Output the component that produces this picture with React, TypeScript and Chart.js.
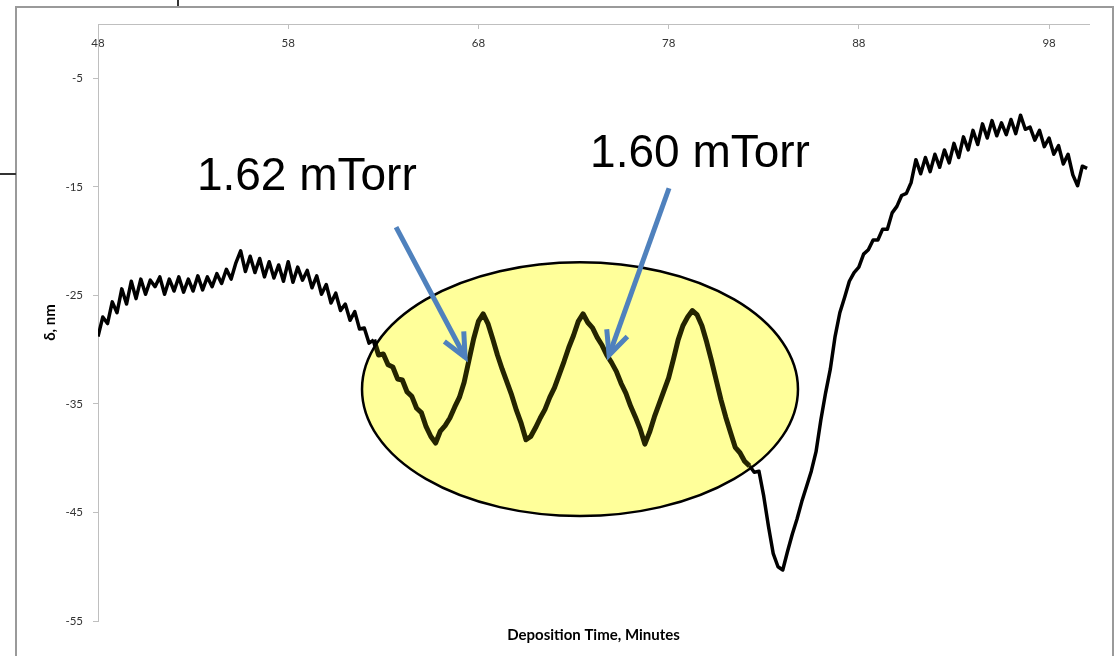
import React, { useEffect, useRef } from "react";
import { Chart, registerables } from "chart.js";

Chart.register(...registerables);

// Deposition time (minutes)
const time = [
  48, 48.25, 48.5, 48.75, 49, 49.25, 49.5, 49.75,
  50, 50.25, 50.5, 50.75, 51, 51.25, 51.5, 51.75,
  52, 52.25, 52.5, 52.75, 53, 53.25, 53.5, 53.75,
  54, 54.25, 54.5, 54.75, 55, 55.25, 55.5, 55.75,
  56, 56.25, 56.5, 56.75, 57, 57.25, 57.5, 57.75,
  58, 58.25, 58.5, 58.75, 59, 59.25, 59.5, 59.75,
  60, 60.25, 60.5, 60.75, 61, 61.25, 61.5, 61.75,
  62, 62.25, 62.5, 62.75, 63, 63.25, 63.5, 63.75,
  64, 64.25, 64.5, 64.75, 65, 65.25, 65.5, 65.75,
  66, 66.25, 66.5, 66.75, 67, 67.25, 67.5, 67.75,
  68, 68.25, 68.5, 68.75, 69, 69.25, 69.5, 69.75,
  70, 70.25, 70.5, 70.75, 71, 71.25, 71.5, 71.75,
  72, 72.25, 72.5, 72.75, 73, 73.25, 73.5, 73.75,
  74, 74.25, 74.5, 74.75, 75, 75.25, 75.5, 75.75,
  76, 76.25, 76.5, 76.75, 77, 77.25, 77.5, 77.75,
  78, 78.25, 78.5, 78.75, 79, 79.25, 79.5, 79.75,
  80, 80.25, 80.5, 80.75, 81, 81.25, 81.5, 81.75,
  82, 82.25, 82.5, 82.75, 83, 83.25, 83.5, 83.75,
  84, 84.25, 84.5, 84.75, 85, 85.25, 85.5, 85.75,
  86, 86.25, 86.5, 86.75, 87, 87.25, 87.5, 87.75,
  88, 88.25, 88.5, 88.75, 89, 89.25, 89.5, 89.75,
  90, 90.25, 90.5, 90.75, 91, 91.25, 91.5, 91.75,
  92, 92.25, 92.5, 92.75, 93, 93.25, 93.5, 93.75,
  94, 94.25, 94.5, 94.75, 95, 95.25, 95.5, 95.75,
  96, 96.25, 96.5, 96.75, 97, 97.25, 97.5, 97.75,
  98, 98.25, 98.5, 98.75, 99, 99.25, 99.5, 99.75,
  100,
];

// delta, nm
const delta = [
  -28.8, -27.0, -27.6, -25.6, -26.6, -24.4, -25.8, -23.7,
  -25.3, -23.5, -24.9, -23.6, -24.2, -23.3, -24.9, -23.5,
  -24.6, -23.3, -24.7, -23.5, -24.6, -23.2, -24.5, -23.3,
  -24.2, -23.0, -23.9, -22.6, -23.5, -22.0, -20.9, -22.8,
  -21.4, -22.9, -21.6, -23.3, -21.9, -23.4, -22.2, -23.7,
  -21.9, -23.8, -22.4, -23.6, -22.7, -24.3, -23.2, -24.9,
  -24.0, -25.7, -24.8, -26.4, -25.8, -27.3, -26.5, -28.1,
  -28.0, -29.4, -29.1, -30.5, -30.4, -31.4, -31.6, -32.7,
  -32.8, -33.9, -34.3, -35.4, -35.8, -37.1, -38.0, -38.6,
  -37.5, -37.0, -36.3, -35.3, -34.4, -33.0, -31.0, -29.0,
  -27.4, -26.7, -27.6, -29.0, -30.5, -31.8, -33.0, -34.2,
  -35.6, -36.8, -38.3, -38.0, -37.2, -36.3, -35.5, -34.4,
  -33.5, -32.3, -31.1, -29.8, -28.7, -27.4, -26.7, -27.5,
  -28.0, -28.9, -29.6, -30.5, -31.2, -32.0, -33.1, -34.0,
  -35.2, -36.2, -37.3, -38.7, -37.6, -36.2, -35.0, -33.8,
  -32.6, -30.9, -29.1, -27.8, -27.0, -26.4, -26.8, -27.8,
  -29.3, -31.0, -32.8, -34.6, -36.2, -37.6, -39.0, -39.5,
  -40.3, -40.7, -41.3, -41.2, -43.5, -46.3, -48.8, -50.0,
  -50.3, -48.6, -47.0, -45.6, -44.0, -42.6, -41.2, -39.4,
  -36.5, -34.0, -31.8, -28.8, -26.6, -25.2, -23.7, -22.9,
  -22.4, -21.2, -20.8, -19.9, -19.9, -18.9, -18.9, -17.4,
  -16.8, -15.8, -15.6, -14.6, -12.5, -13.8, -12.3, -13.6,
  -12.0, -13.2, -11.6, -12.8, -11.0, -12.3, -10.4, -11.6,
  -9.8, -11.1, -9.2, -10.5, -8.9, -10.3, -9.1, -10.2,
  -8.8, -10.1, -8.4, -9.7, -9.5, -10.7, -9.8, -11.3,
  -10.5, -12.0, -11.2, -12.9, -12.0, -13.9, -14.9, -13.1,
  -13.3,
];

const xTicks = [48, 58, 68, 78, 88, 98];
const yTicks = [-55, -45, -35, -25, -15, -5];
const xTitle = "Deposition Time, Minutes";
const yTitle = "δ, nm";

// annotations in data units
const noteTexts = ["1.62 mTorr", "1.60 mTorr"];
const noteAnchors = [
  [53.2, -15.3],
  [73.87, -13.2],
];
const arrowStarts = [
  [63.67, -18.72],
  [78.02, -15.13],
];
const arrowTips = [
  [67.3, -30.7],
  [74.87, -30.5],
];
const ellipseCenter = [73.34, -33.64];
const ellipseRadii = [11.46, 11.69];
const highlightRange = [62.4, 82.4];

const tickFont = { family: "Lato", size: 11.5 };
const titleFont = { family: "Lato", size: 15, weight: "bold" as const };

function ellipseGeom(chart: any) {
  const x = chart.scales.x;
  const y = chart.scales.y;
  const cx = x.getPixelForValue(ellipseCenter[0]);
  const cy = y.getPixelForValue(ellipseCenter[1]);
  const rx = Math.abs(x.getPixelForValue(ellipseCenter[0] + ellipseRadii[0]) - cx);
  const ry = Math.abs(y.getPixelForValue(ellipseCenter[1] + ellipseRadii[1]) - cy);
  return { cx, cy, rx, ry };
}

const annotate = {
  id: "annotate",
  beforeDatasetsDraw(chart: any) {
    const { ctx } = chart;
    const { cx, cy, rx, ry } = ellipseGeom(chart);
    ctx.save();
    ctx.beginPath();
    ctx.ellipse(cx, cy, rx, ry, 0, 0, Math.PI * 2);
    ctx.fillStyle = "#ffffb4";
    ctx.fill();
    ctx.restore();
  },
  afterDatasetsDraw(chart: any) {
    const { ctx, scales } = chart;
    const x = scales.x;
    const y = scales.y;
    const { cx, cy, rx, ry } = ellipseGeom(chart);
    ctx.save();
    ctx.beginPath();
    ctx.ellipse(cx, cy, rx, ry, 0, 0, Math.PI * 2);
    ctx.fillStyle = "rgba(255,255,0,0.14)";
    ctx.fill();
    ctx.lineWidth = 2.5;
    ctx.strokeStyle = "#000";
    ctx.stroke();

    // arrows
    ctx.strokeStyle = "#4f81bd";
    ctx.lineWidth = 5;
    ctx.lineCap = "butt";
    for (let i = 0; i < arrowStarts.length; i++) {
      const x1 = x.getPixelForValue(arrowStarts[i][0]);
      const y1 = y.getPixelForValue(arrowStarts[i][1]);
      const x2 = x.getPixelForValue(arrowTips[i][0]);
      const y2 = y.getPixelForValue(arrowTips[i][1]);
      ctx.beginPath();
      ctx.moveTo(x1, y1);
      ctx.lineTo(x2, y2);
      ctx.stroke();
      const back = Math.atan2(y1 - y2, x1 - x2);
      const len = 26;
      const spread = (25 * Math.PI) / 180;
      ctx.beginPath();
      ctx.moveTo(x2 + len * Math.cos(back - spread), y2 + len * Math.sin(back - spread));
      ctx.lineTo(x2, y2);
      ctx.lineTo(x2 + len * Math.cos(back + spread), y2 + len * Math.sin(back + spread));
      ctx.stroke();
    }

    // texts
    ctx.fillStyle = "#000";
    ctx.font = '46px "Liberation Sans", Arial, sans-serif';
    ctx.textAlign = "left";
    ctx.textBaseline = "alphabetic";
    for (let i = 0; i < noteTexts.length; i++) {
      ctx.fillText(
        noteTexts[i],
        x.getPixelForValue(noteAnchors[i][0]),
        y.getPixelForValue(noteAnchors[i][1])
      );
    }
    ctx.restore();
  },
};

function ChartView() {
  const ref = useRef<HTMLCanvasElement | null>(null);
  useEffect(() => {
    if (!ref.current) return;
    const chart = new Chart(ref.current, {
      type: "line",
      data: {
        datasets: [
          {
            data: time.map((t, i) => ({ x: t, y: delta[i] })),
            borderColor: "#000",
            borderWidth: 3.5,
            borderJoinStyle: "round",
            pointRadius: 0,
            tension: 0,
            fill: false,
            segment: {
              borderWidth: (c: any) =>
                c.p0.parsed.x >= highlightRange[0] && c.p1.parsed.x <= highlightRange[1] ? 5 : 3.5,
            },
          } as any,
        ],
      },
      options: {
        animation: false,
        responsive: false,
        maintainAspectRatio: false,
        events: [],
        layout: { padding: { top: 24, right: 30, bottom: 0, left: 0 } },
        plugins: { legend: { display: false }, tooltip: { enabled: false } },
        scales: {
          x: {
            type: "linear",
            min: 48,
            max: 100.1,
            position: { y: 0 } as any,
            afterBuildTicks: (s: any) => {
              s.ticks = xTicks.map((v) => ({ value: v }));
            },
            ticks: {
              font: tickFont,
              color: "#333",
              padding: 8,
              maxRotation: 0,
              autoSkip: false,
            },
            grid: {
              display: true,
              drawOnChartArea: false,
              drawTicks: true,
              tickLength: 4,
              color: "#bfbfbf",
            },
            border: { display: true, color: "#bfbfbf", width: 1 },
          },
          x2: {
            type: "linear",
            axis: "x",
            position: "bottom",
            display: true,
            min: 0,
            max: 1,
            ticks: { display: false },
            grid: { display: false },
            border: { display: false },
            title: {
              display: true,
              text: xTitle,
              font: titleFont,
              color: "#000",
              padding: { top: 0, bottom: 12 },
            },
            afterFit: (s: any) => {
              s.height = 35;
            },
          },
          y: {
            type: "linear",
            min: -55,
            max: 0,
            position: "left",
            afterBuildTicks: (s: any) => {
              s.ticks = yTicks.map((v) => ({ value: v }));
            },
            ticks: { font: tickFont, color: "#333", padding: 10 },
            grid: {
              display: true,
              drawOnChartArea: false,
              drawTicks: true,
              tickLength: 5,
              color: "#bfbfbf",
            },
            border: { display: true, color: "#bfbfbf", width: 1 },
            title: {
              display: true,
              text: yTitle,
              font: titleFont,
              color: "#000",
              padding: { top: 41, bottom: 0 },
            },
            afterFit: (s: any) => {
              s.width = 98;
            },
          },
        },
      },
      plugins: [annotate],
    });
    return () => chart.destroy();
  }, []);
  return <canvas ref={ref} width={1119} height={656} style={{ display: "block" }} />;
}

export default function App() {
  return (
    <div
      style={{
        position: "fixed",
        left: 0,
        top: 0,
        width: 1119,
        height: 656,
        background: "#fff",
        overflow: "hidden",
      }}
    >
      <div
        style={{
          position: "absolute",
          left: 15,
          top: 6,
          width: 1099,
          height: 700,
          border: "2px solid #9a9a9a",
          boxSizing: "border-box",
        }}
      />
      <div
        style={{
          position: "absolute",
          left: 0,
          top: 173,
          width: 16,
          height: 2,
          background: "#333",
        }}
      />
      <div
        style={{
          position: "absolute",
          left: 177,
          top: 0,
          width: 1.5,
          height: 6,
          background: "#333",
        }}
      />
      <div style={{ position: "absolute", left: 0, top: 0 }}>
        <ChartView />
      </div>
    </div>
  );
}
